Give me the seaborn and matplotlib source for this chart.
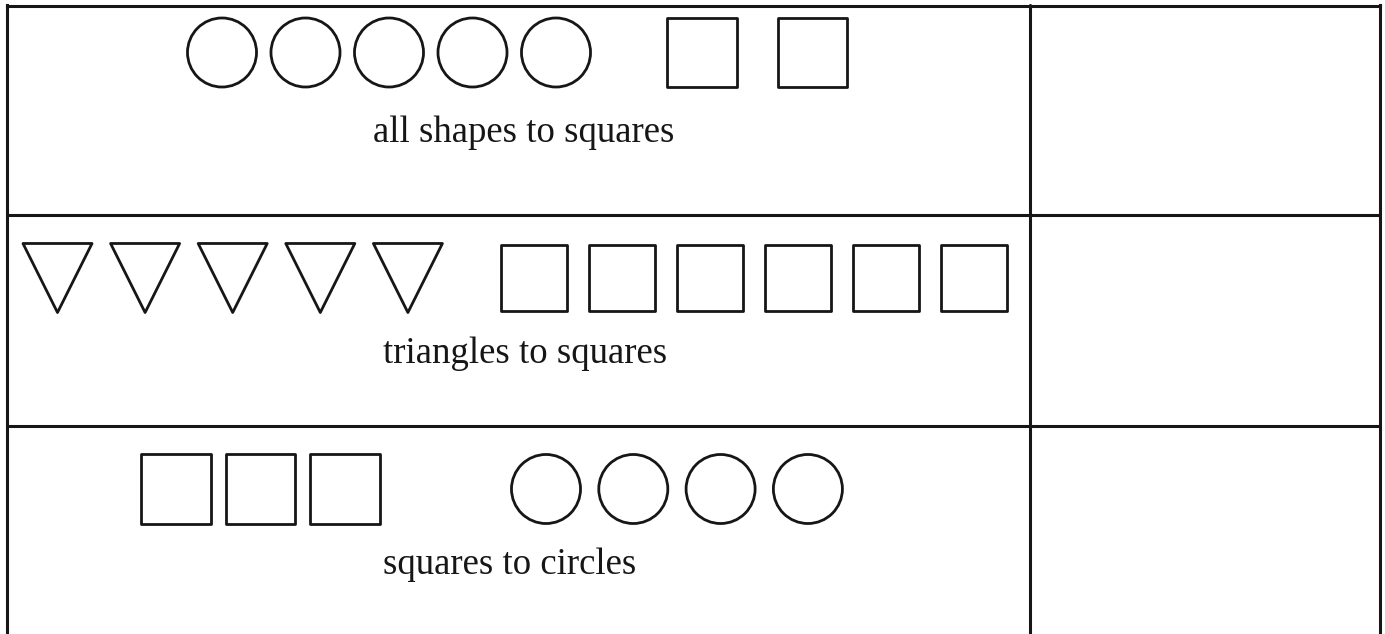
import matplotlib
matplotlib.use("Agg")
import matplotlib.pyplot as plt
import seaborn as sns
import pandas as pd

# rows of the worksheet: caption, then two groups of shapes (kind, how many)
captions = ["all shapes to squares", "triangles to squares", "squares to circles"]
left_shapes = ["circle", "triangle", "square"]
left_counts = [5, 5, 3]
right_shapes = ["square", "square", "circle"]
right_counts = [2, 6, 4]

# layout (pixels, figure is 1385 x 634 at dpi 100)
row_y = [52.5, 278, 489]
caption_x = [524, 525, 510]
caption_base = [142, 363, 574]
left_start, left_step = [222, 57.5, 176], [83.5, 87.6, 84.5]
right_start, right_step = [702, 534, 546], [110.5, 88, 87.3]
marker_map = {"circle": "o", "square": "s", "triangle": "v"}
ink = "#161616"

rows = []
for i in range(3):
    for shape, n, x0, dx, side in [(left_shapes[i], left_counts[i], left_start[i], left_step[i], "L"),
                                   (right_shapes[i], right_counts[i], right_start[i], right_step[i], "R")]:
        for k in range(n):
            rows.append({"row": i, "side": side, "shape": shape, "x": x0 + k * dx, "y": row_y[i]})
df = pd.DataFrame(rows)

sns.set_style("white")
plt.rcParams["font.family"] = ["Liberation Serif", "DejaVu Serif"]

fig = plt.figure(figsize=(13.85, 6.34), dpi=100)
ax = fig.add_axes([0, 0, 1, 1])

for (row, side), grp in df.groupby(["row", "side"]):
    shape = grp["shape"].iloc[0]
    size = 2326 if (row == 1 and side == "R") else 2470
    sns.scatterplot(data=grp, x="x", y="y", marker=marker_map[shape], s=size,
                    color="none", edgecolor=ink, linewidth=2.0, ax=ax, legend=False)

for i, cap in enumerate(captions):
    ax.text(caption_x[i], caption_base[i], cap, ha="center", va="baseline",
            fontsize=26.5, color=ink)

# table grid
lw = 2.2
ax.plot([6.5, 6.5], [634, 5], color=ink, lw=lw, solid_capstyle="projecting")
ax.plot([1029.5, 1029.5], [634, 5], color=ink, lw=lw)
ax.plot([1379.5, 1379.5], [634, 5], color=ink, lw=lw, solid_capstyle="projecting")
ax.plot([6.5, 1379.5], [5.5, 5.5], color=ink, lw=lw, solid_capstyle="projecting")
ax.plot([6.5, 1379.5], [215, 215], color=ink, lw=lw)
ax.plot([6.5, 1379.5], [425.5, 425.5], color=ink, lw=lw)

ax.set_xlim(0, 1385)
ax.set_ylim(634, 0)
ax.axis("off")

fig.savefig("out.png", dpi=100)
